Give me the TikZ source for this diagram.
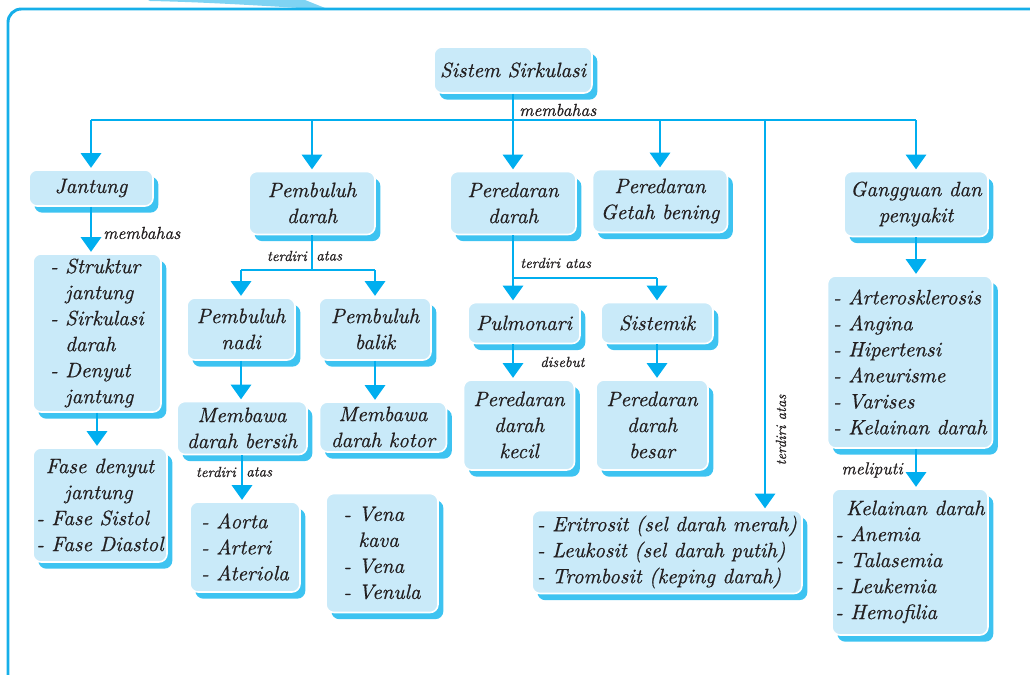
\documentclass[tikz,border=0pt]{standalone}
\usepackage{fontspec}
\newfontfamily\lmten{lmroman10-regular}[Extension=.otf, ItalicFont=lmroman10-italic, ItalicFeatures={FakeBold=0.6}]
\usetikzlibrary{arrows.meta,shadows,calc}
\definecolor{boxfill}{HTML}{C9EAF9}
\definecolor{shadowblue}{HTML}{3DC3F1}
\definecolor{linec}{HTML}{00AEEF}
\definecolor{framec}{HTML}{16AFE9}
\definecolor{textc}{HTML}{231F20}
\newcommand\mainf{\lmten\fontsize{15.6}{19.5}\selectfont\itshape}
\newcommand\labf{\lmten\fontsize{11}{13}\selectfont\itshape}
\newcommand\labbf{\lmten\fontsize{13}{14}\selectfont\itshape}
\tikzset{
  box/.style={rounded corners=6pt, fill=boxfill, draw=white, line width=1.2pt,
    general shadow={fill=shadowblue, shadow xshift=4pt, shadow yshift=-5pt},
    font=\mainf, text=textc, inner sep=2pt},
  sz/.style 2 args={minimum width=#1*0.75pt, minimum height=#2*0.75pt},
  conn/.style={draw=linec, line width=2.2pt},
  arr/.style={conn, -{Triangle[width=15pt,length=11pt]}, shorten >=1pt},
  lab/.style={font=\labf, text=textc, inner sep=0pt},
  labm/.style={font=\labbf, text=textc, inner sep=0pt},
}
\begin{document}
\begin{tikzpicture}[x=0.75pt,y=-0.75pt]
\useasboundingbox (0,0) rectangle (1030,674);
% frame
\fill[framec!55] (148,0) -- (305,0) -- (325,8) -- (300,8) .. controls (250,5) and (200,2) .. (150,1) -- cycle;
\draw[framec, line width=2.2pt, rounded corners=10pt] (8,676) -- (8,9) -- (1034,9);

% nodes
\node[box, sz={158}{46}] (root) at (513,70) {Sistem Sirkulasi};
\node[box, sz={124}{36}] (jantung) at (91,188) {Jantung};
\node[box, sz={128}{158}, align=left] (jlist) at (97,333) {- Struktur\\\hphantom{- }jantung\\- Sirkulasi\\\hphantom{- }darah\\- Denyut\\\hphantom{- }jantung};
\node[box, sz={134}{114}, align=left] (fase) at (100,505) {\hspace*{7pt}Fase denyut\\\hspace*{21pt}jantung\\- Fase Sistol\\- Fase Diastol};

\node[box, sz={126}{63}, align=center] (pd) at (312,203) {Pembuluh\\darah};
\node[box, sz={108}{62}, align=center] (pn) at (241,329) {Pembuluh\\nadi};
\node[box, sz={112}{62}, align=center] (pb) at (375,329) {Pembuluh\\balik};
\node[box, sz={130}{53}, align=center] (mb) at (242,428) {Membawa\\darah bersih};
\node[box, sz={127}{50}, align=center] (mk) at (383,427) {Membawa\\darah kotor};
\node[box, sz={110}{90}, align=left] (aorta) at (245,547) {- Aorta\\- Arteri\\- Ateriola};
\node[box, sz={112}{119}, align=left] (vena) at (382,553) {- Vena\\\hphantom{- }kava\\- Vena\\- Venula};

\node[box, sz={126}{63}, align=center] (pdr) at (513,203) {Peredaran\\darah};
\node[box, sz={135}{63}, align=center] (pgb) at (660,201) {Peredaran\\Getah bening};
\node[box, sz={112}{41}] (pul) at (524,323) {Pulmonari};
\node[box, sz={112}{41}] (sis) at (657,323) {Sistemik};
\node[box, sz={111}{90}, align=center] (pdk) at (519,425) {Peredaran\\darah\\kecil};
\node[box, sz={112}{90}, align=center] (pdb) at (652,425) {Peredaran\\darah\\besar};
\node[box, sz={270}{83}, align=left] (erit) at (667,552) {- Eritrosit (sel darah merah)\\- Leukosit (sel darah putih)\\- Trombosit (keping darah)};

\node[box, sz={144}{65}, align=center] (gg) at (916,204) {Gangguan dan\\penyakit};
\node[box, sz={165}{172}, align=left] (dis) at (910,362) {- Arterosklerosis\\- Angina\\- Hipertensi\\- Aneurisme\\- Varises\\- Kelainan darah};
\node[box, sz={156}{146}, align=left] (kd) at (910,562) {\hspace*{8pt}Kelainan darah\\- Anemia\\- Talasemia\\- Leukemia\\- Hemofilia};

% connectors
\coordinate (bus) at (513,120);
\coordinate (tbus) at (765,120);
\draw[conn] (root.south) -- (bus);
\draw[conn] (jantung.north |- bus) -- (gg.north |- bus);
\foreach \n in {jantung,pd,pdr,pgb,gg} \draw[arr] (\n.north |- bus) -- (\n.north);
\draw[arr] (tbus) -- (tbus |- erit.north);

\draw[arr] (jantung.south) -- (jantung.south |- jlist.north);
\draw[arr] (jlist.south) -- (jlist.south |- fase.north);

\coordinate (b2) at (312,270);
\draw[conn] (pd.south) -- (b2);
\draw[conn] (pn.north |- b2) -- (pb.north |- b2);
\draw[arr] (pn.north |- b2) -- (pn.north);
\draw[arr] (pb.north |- b2) -- (pb.north);
\draw[arr] (pn.south) -- (pn.south |- mb.north);
\draw[arr] (pb.south) -- (pb.south |- mk.north);
\draw[arr] (mb.south) -- (mb.south |- aorta.north);

\coordinate (b3) at (513,278);
\draw[conn] (pdr.south) -- (b3) -- (sis.north |- b3);
\draw[arr] (b3) -- (b3 |- pul.north);
\draw[arr] (sis.north |- b3) -- (sis.north);
\draw[arr] (b3 |- pul.south) -- (b3 |- pdk.north);
\draw[arr] (sis.south) -- (sis.south |- pdb.north);

\draw[arr] (gg.south) -- (gg.south |- dis.north);
\draw[arr] (gg.south |- dis.south) -- (gg.south |- kd.north);

% labels
\node[labm, anchor=west] (l1) at (519,110) {membahas};
\node[labm, anchor=west] (l2) at (103,233) {membahas};
\node[lab, anchor=east] (l3a) at (307,256) {terdiri};
\node[lab, anchor=west] (l3b) at (316,256) {atas};
\node[lab, anchor=west] (l4) at (520,263) {terdiri atas};
\node[lab, anchor=west] (l5) at (540,362) {disebut};
\node[lab, anchor=east] (l6a) at (236,472) {terdiri};
\node[lab, anchor=west] (l6b) at (246,472) {atas};
\node[lab, rotate=90] (l7) at (781,430) {terdiri atas};
\node[labm, anchor=east] (l8) at (903,470) {meliputi};
\end{tikzpicture}
\end{document}
